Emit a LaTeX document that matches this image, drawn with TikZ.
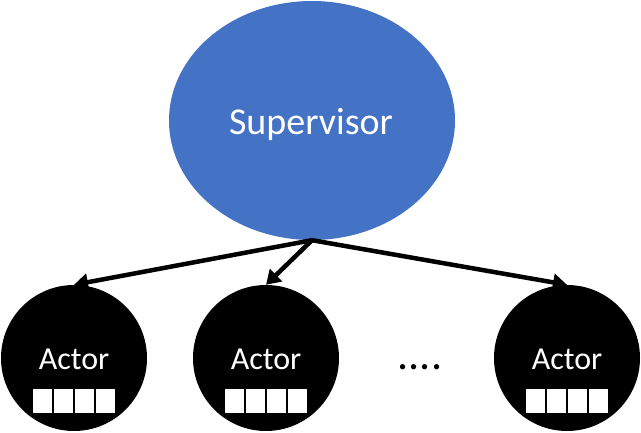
\documentclass[tikz,border=0pt]{standalone}
\usepackage{fontspec}
\setmainfont{Carlito}
\usetikzlibrary{shapes.geometric,arrows.meta}
\definecolor{supblue}{HTML}{4472C4}
\tikzset{
  supnode/.style={ellipse, fill=supblue, minimum width=286pt, minimum height=239pt, inner sep=0pt},
  suplabel/.style={text=white, inner sep=0pt, font=\fontsize{38}{40}\selectfont},
  actornode/.style={circle, fill=black, minimum size=146pt, inner sep=0pt},
  actorlabel/.style={text=white, inner sep=0pt, font=\fontsize{32}{34}\selectfont},
  qbox/.style={fill=white, minimum width=19pt, minimum height=24pt, inner sep=0pt},
  arr/.style={line width=4.5pt, -{Triangle[length=14pt,width=17pt]}},
  dotslabel/.style={inner sep=0pt, font=\fontsize{44}{46}\selectfont}
}
\begin{document}
\begin{tikzpicture}[x=1pt,y=-1pt]
\useasboundingbox (0,0) rectangle (641,433);
\node[supnode] (sup) at (312,120.5) {};
\node[suplabel, anchor=base] (suplab) at (311,135) {Supervisor};
\foreach \n/\cx in {a1/74, a2/266, a3/567} {
  \node[actornode] (\n) at (\cx,358) {};
  \node[actorlabel, anchor=base] (\n lab) at (\cx,370) {Actor};
  \node[qbox] (\n q1) at (\cx-31.5,401) {};
  \node[qbox] (\n q2) at (\cx-10.5,401) {};
  \node[qbox] (\n q3) at (\cx+10.5,401) {};
  \node[qbox] (\n q4) at (\cx+31.5,401) {};
}
\node[dotslabel, anchor=base] (dots) at (420,370) {....};
\draw[arr] (sup.south) -- (a1.north);
\draw[arr] (sup.south) -- (a2.north);
\draw[arr] (sup.south) -- (a3.north);
\end{tikzpicture}
\end{document}
